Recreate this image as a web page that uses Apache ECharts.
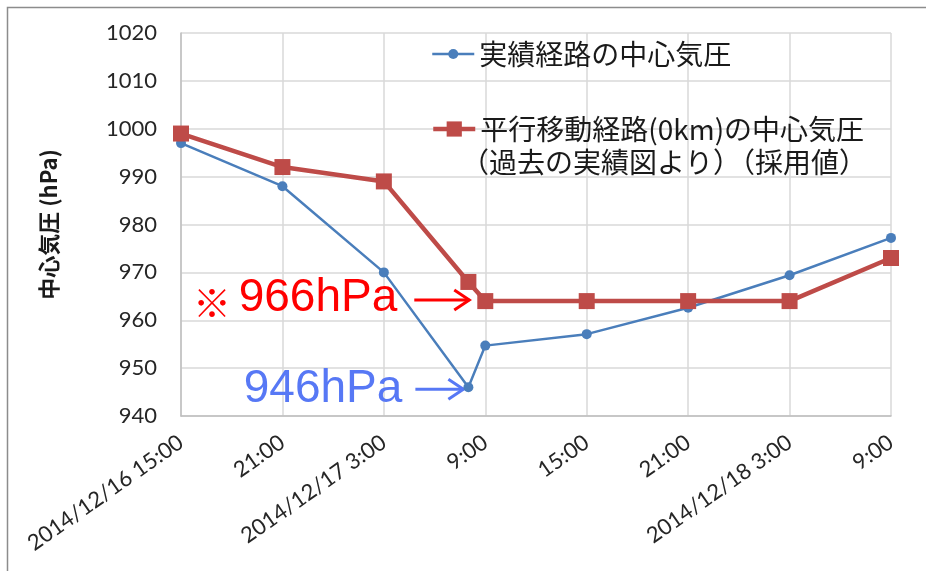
<!DOCTYPE html>
<html>
<head>
<meta charset="utf-8">
<script src="https://cdn.jsdelivr.net/npm/echarts@6/dist/echarts.min.js"></script>
<style>
  html, body { margin: 0; padding: 0; background: #ffffff; }
  #chart { width: 926px; height: 571px; }
</style>
</head>
<body>
<div id="chart"></div>
<script>
// Hours elapsed since 2014/12/16 15:00
const hours = [0, 6, 12, 17, 18, 24, 30, 36, 42];
// 実績経路の中心気圧 (hPa)
const actualPressure = [997, 988, 970, 946, 954.7, 957.1, 962.6, 969.4, 977.2];
// 平行移動経路(0km)の中心気圧 (hPa)
const shiftedPressure = [999, 992, 989, 968, 964, 964, 964, 964, 973];
// Tick labels every 6 hours
const tickLabels = ['2014/12/16 15:00', '21:00', '2014/12/17 3:00', '9:00', '15:00', '21:00', '2014/12/18 3:00', '9:00'];

const seriesNames = ['実績経路の中心気圧', '平行移動経路(0km)の中心気圧'];
const legendSecondLine = '（過去の実績図より）（採用値）';

const BLUE = '#4A7EBB';
const RED = '#BE4B48';
const LABEL_FONT = 'Lato, "Noto Sans", sans-serif';
const JP_FONT = '"Noto Sans CJK JP", sans-serif';

const chart = echarts.init(document.getElementById('chart'), null, { renderer: 'canvas' });

const pairs = (xs, ys) => xs.map((x, i) => [x, ys[i]]);

const legendText = { fontFamily: JP_FONT, fontSize: 28, color: '#1a1a1a', lineHeight: 30 };

chart.setOption({
  animation: false,
  backgroundColor: '#ffffff',
  grid: { left: 181, right: 35, top: 33, bottom: 155, containLabel: false },
  legend: [
    {
      left: 431, top: 39, padding: 0,
      itemWidth: 42, itemHeight: 12.5,
      data: [seriesNames[0]],
      lineStyle: { width: 2.5 },
      textStyle: legendText
    },
    {
      left: 431, top: 114, padding: 0,
      itemWidth: 42, itemHeight: 19,
      data: [seriesNames[1]],
      lineStyle: { width: 4.5 },
      textStyle: legendText
    }
  ],
  xAxis: {
    type: 'value',
    min: 0,
    max: 42,
    interval: 6,
    axisLine: { show: true, lineStyle: { color: '#bfbfbf', width: 1.5 } },
    axisTick: { show: false },
    splitLine: { show: true, lineStyle: { color: '#d9d9d9', width: 1.5 } },
    axisLabel: {
      rotate: 35,
      margin: 24,
      fontFamily: LABEL_FONT,
      fontSize: 22,
      color: '#262626',
      formatter: v => tickLabels[Math.round(v / 6)] || ''
    }
  },
  yAxis: {
    type: 'value',
    min: 940,
    max: 1020,
    interval: 10,
    name: '中心気圧 (hPa)',
    nameLocation: 'middle',
    nameGap: 121,
    nameRotate: 90,
    nameTextStyle: { fontFamily: JP_FONT, fontSize: 22, color: '#1a1a1a', fontWeight: 'bold' },
    axisLine: { show: true, lineStyle: { color: '#bfbfbf', width: 1.5 } },
    axisTick: { show: false },
    splitLine: { show: true, lineStyle: { color: '#d9d9d9', width: 1.5 } },
    axisLabel: {
      margin: 24, fontFamily: LABEL_FONT, fontSize: 22, color: '#262626',
      formatter: v => String(v)
    }
  },
  series: [
    {
      name: seriesNames[0],
      type: 'line',
      data: pairs(hours, actualPressure),
      symbol: 'circle',
      symbolSize: 10,
      color: BLUE,
      lineStyle: { color: BLUE, width: 2.5 },
      itemStyle: { color: BLUE }
    },
    {
      name: seriesNames[1],
      type: 'line',
      data: pairs(hours, shiftedPressure),
      symbol: 'rect',
      symbolSize: 16,
      color: RED,
      lineStyle: { color: RED, width: 4.5 },
      itemStyle: { color: RED }
    }
  ]
});

// Annotation arrows pointing at the marked pressures
function arrow(tipX, tipY, len, color) {
  return [
    { type: 'line', shape: { x1: tipX - len, y1: tipY, x2: tipX, y2: tipY }, style: { stroke: color, lineWidth: 3 } },
    { type: 'polyline', shape: { points: [[tipX - 15, tipY - 10], [tipX, tipY], [tipX - 15, tipY + 10]] },
      style: { stroke: color, lineWidth: 3, fill: null } }
  ];
}

const minIdx = actualPressure.indexOf(Math.min(...actualPressure));
const bluePt = chart.convertToPixel({ gridIndex: 0 }, [hours[minIdx], actualPressure[minIdx]]);
const redPt = chart.convertToPixel({ gridIndex: 0 }, [hours[4], shiftedPressure[4]]);

const redTip = [redPt[0] - 16, redPt[1] - 1];
const blueTip = [bluePt[0] - 5, bluePt[1] + 2];

chart.setOption({
  graphic: [
    // outer frame
    { type: 'rect', shape: { x: 7.5, y: 7.5, width: 1200, height: 1200 },
      style: { stroke: '#8c8c8c', lineWidth: 1.5, fill: null }, silent: true },
    // second line of the red legend entry
    { type: 'text', left: 461, top: 148,
      style: { text: legendSecondLine, font: '28px ' + JP_FONT, fill: '#1a1a1a' } },
    ...arrow(redTip[0], redTip[1], 55, '#ff0000'),
    { type: 'text', x: redTip[0] - 72, y: redTip[1] - 2,
      style: { text: '966hPa', font: '46px "Liberation Sans", Arial, sans-serif', fill: '#ff0000',
               align: 'right', verticalAlign: 'middle' } },
    { type: 'text', x: 212, y: redTip[1] + 2,
      style: { text: '※', font: '38px ' + JP_FONT, fill: '#ff0000',
               align: 'center', verticalAlign: 'middle' } },
    ...arrow(blueTip[0], blueTip[1], 48, '#5778f5'),
    { type: 'text', x: blueTip[0] - 61, y: blueTip[1],
      style: { text: '946hPa', font: '46px "Liberation Sans", Arial, sans-serif', fill: '#5778f5',
               align: 'right', verticalAlign: 'middle' } }
  ]
});
</script>
</body>
</html>
